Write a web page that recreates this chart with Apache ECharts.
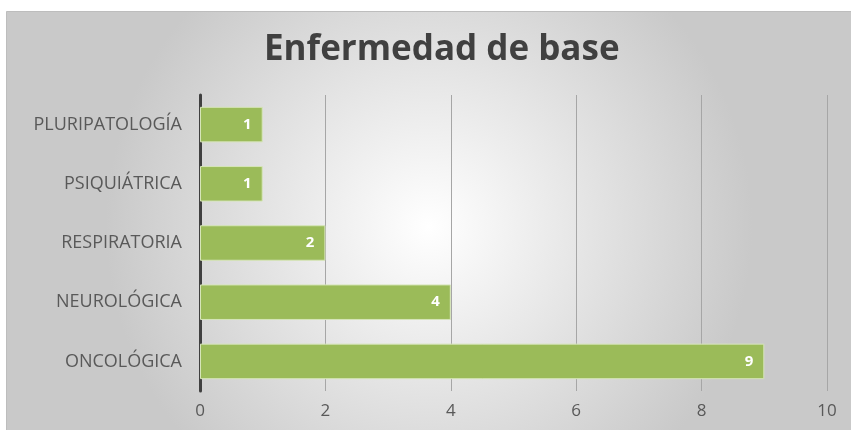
<!DOCTYPE html>
<html><head><meta charset="utf-8">
<script src="https://cdn.jsdelivr.net/npm/echarts@6/dist/echarts.min.js"></script>
<style>html,body{margin:0;padding:0;background:#fff}#c{width:851px;height:430px}</style>
</head><body><div id="c"></div>
<script>
const categories = ['ONCOLÓGICA','NEUROLÓGICA','RESPIRATORIA','PSIQUIÁTRICA','PLURIPATOLOGÍA'];
const values = [9,4,2,1,1];
const xTicks = [0,2,4,6,8,10];

const chart = echarts.init(document.getElementById('c'));
chart.setOption({
  animation:false,
  graphic:[{
    type:'rect', left:6, top:11, z:-10,
    shape:{width:845, height:430},
    style:{
      fill:new echarts.graphic.RadialGradient(0.5,0.5,0.75,[
        {offset:0,color:'#ffffff'},{offset:1,color:'#c9c9c9'}]),
      stroke:'#bdbdbd', lineWidth:1
    }
  }],
  title:{text:'Enfermedad de base', left:259, top:28,
    textStyle:{fontFamily:'Open Sans', fontWeight:'bold', fontSize:35, color:'#404040'}},
  grid:{left:200, right:24, top:95, bottom:39},
  xAxis:{type:'value', min:0, max:10, interval:2,
    axisLine:{show:false}, axisTick:{show:false},
    axisLabel:{color:'#595959', fontFamily:'Open Sans', fontSize:17, margin:12},
    splitLine:{lineStyle:{color:'#a6a6a6', width:1}}},
  yAxis:{type:'category', data:categories,
    axisLine:{lineStyle:{color:'#404040', width:3}}, axisTick:{show:false},
    axisLabel:{color:'#595959', fontFamily:'Open Sans', fontSize:18, margin:18}},
  series:[{type:'bar', data:values, barCategoryGap:'40%',
    itemStyle:{color:'#9bbb59', borderColor:'#d6e5b8', borderWidth:1},
    label:{show:true, position:'insideRight', color:'#fff', fontWeight:'bold', fontFamily:'Open Sans', fontSize:15, offset:[-6,0]}}]
});
</script></body></html>
